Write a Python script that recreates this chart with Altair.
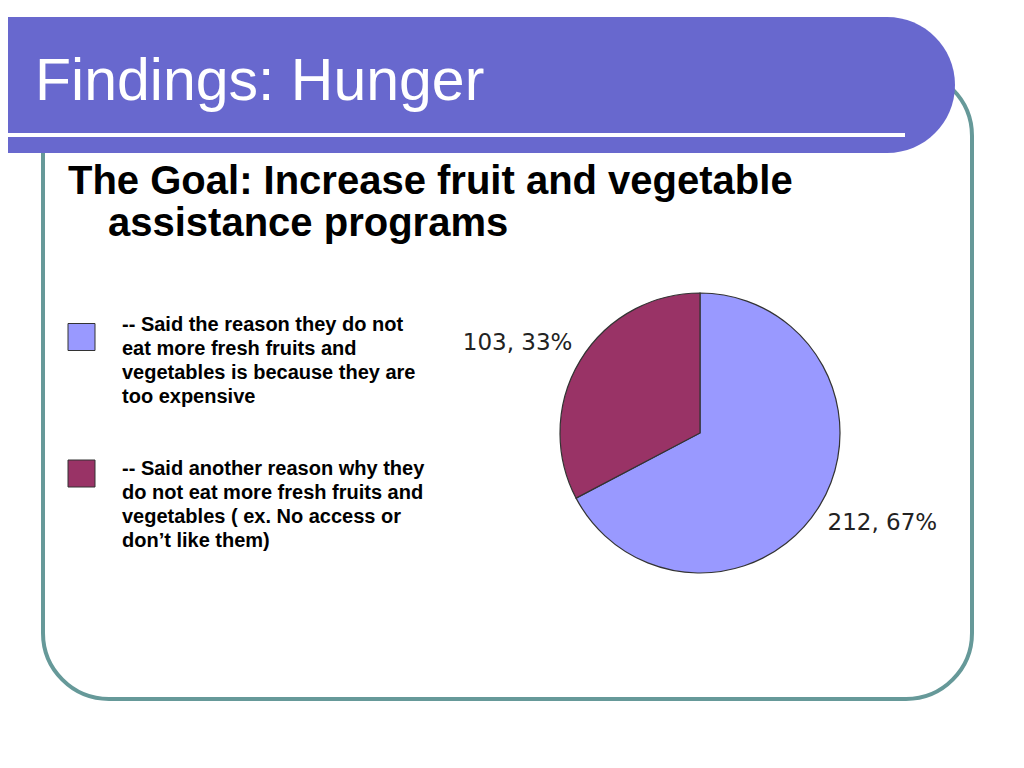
import altair as alt
import pandas as pd

# ---- content -------------------------------------------------------------
slide_title = "Findings: Hunger"
goal_line1 = "The Goal: Increase fruit and vegetable"
goal_line2 = "assistance programs"

categories = [
    "-- Said the reason they do not\neat more fresh fruits and\nvegetables is because they are\ntoo expensive",
    "-- Said another reason why they\ndo not eat more fresh fruits and\nvegetables ( ex. No access or\ndon\u2019t like them)",
]
counts = [212, 103]
percents = [67, 33]
colors = ["#9999FF", "#993366"]

OX, OY = 8, 8  # page margin offset

df = pd.DataFrame({
    "category": categories,
    "count": counts,
    "pct": percents,
    "order": list(range(len(categories))),
})
df["label"] = [f"{c}, {p}%" for c, p in zip(counts, percents)]

one = pd.DataFrame({"k": [0]})
FONT = "Liberation Sans"

color = alt.Color("category:N", scale=alt.Scale(domain=categories, range=colors), legend=None)

# ---- slide decorations ---------------------------------------------------
frame = alt.Chart(one).mark_rect(
    fill="white", stroke="#669999", strokeWidth=4, cornerRadius=66
).encode(x=alt.value(43 - OX), x2=alt.value(972 - OX), y=alt.value(70 - OY), y2=alt.value(699 - OY))

title_bar = alt.Chart(one).mark_rect(
    color="#6868CE", cornerRadiusTopRight=68, cornerRadiusBottomRight=68
).encode(x=alt.value(0), x2=alt.value(955 - OX), y=alt.value(17 - OY), y2=alt.value(153 - OY))

title_line = alt.Chart(one).mark_rect(color="white").encode(
    x=alt.value(0), x2=alt.value(905 - OX), y=alt.value(133 - OY), y2=alt.value(137 - OY)
)

title = alt.Chart(one).mark_text(
    text=slide_title, font=FONT, fontSize=59, color="white", align="left", baseline="alphabetic"
).encode(x=alt.value(35 - OX), y=alt.value(100 - OY))

goal1 = alt.Chart(one).mark_text(
    text=goal_line1, font=FONT, fontSize=40, fontWeight="bold", color="black",
    align="left", baseline="alphabetic"
).encode(x=alt.value(68 - OX), y=alt.value(194 - OY))

goal2 = alt.Chart(one).mark_text(
    text=goal_line2, font=FONT, fontSize=40, fontWeight="bold", color="black",
    align="left", baseline="alphabetic"
).encode(x=alt.value(108 - OX), y=alt.value(236 - OY))

# ---- legend --------------------------------------------------------------
legend_boxes = alt.Chart(df).mark_point(
    shape="square", filled=True, size=729, stroke="#333333", strokeWidth=1, opacity=1
).encode(
    x=alt.value(81.5 - OX),
    y=alt.Y("category:N", scale=alt.Scale(type="point", domain=categories,
                                          range=[337 - OY, 473.5 - OY], padding=0), axis=None),
    fill=color,
)

legend_text = alt.Chart(df).mark_text(
    font=FONT, fontSize=20, fontWeight="bold", color="black", align="left",
    baseline="alphabetic", lineBreak="\n", lineHeight=24
).encode(
    x=alt.value(122 - OX),
    y=alt.Y("category:N", scale=alt.Scale(type="point", domain=categories,
                                          range=[331 - OY, 475 - OY], padding=0), axis=None),
    text="category:N",
)

# ---- pie -----------------------------------------------------------------
pie_base = alt.Chart(df).encode(
    theta=alt.Theta("count:Q", stack=True),
    order=alt.Order("order:Q"),
    x=alt.value(700 - OX),
    y=alt.value(433 - OY),
)

pie = pie_base.mark_arc(radius=140, stroke="#333333", strokeWidth=1.2).encode(color=color)

lab_right_side = pie_base.transform_calculate(
    t="datum.order == 0 ? datum.label : ''"
).mark_text(
    radius=149, align="left", baseline="middle", dy=13,
    font="DejaVu Sans", fontSize=23, color="#222222"
).encode(text="t:N")

lab_left_side = pie_base.transform_calculate(
    t="datum.order == 1 ? datum.label : ''"
).mark_text(
    radius=149, align="right", baseline="middle", dy=-13,
    font="DejaVu Sans", fontSize=23, color="#222222"
).encode(text="t:N")

chart = alt.layer(
    frame, title_bar, title_line, title, goal1, goal2,
    legend_boxes, legend_text, pie, lab_right_side, lab_left_side,
).resolve_scale(y="independent").properties(
    width=1008, height=752, padding=0,
    autosize=alt.AutoSizeParams(type="none"),
    background="white",
).configure_view(strokeWidth=0)

chart.save("out.html", embed_options={"renderer": "svg", "actions": False})
